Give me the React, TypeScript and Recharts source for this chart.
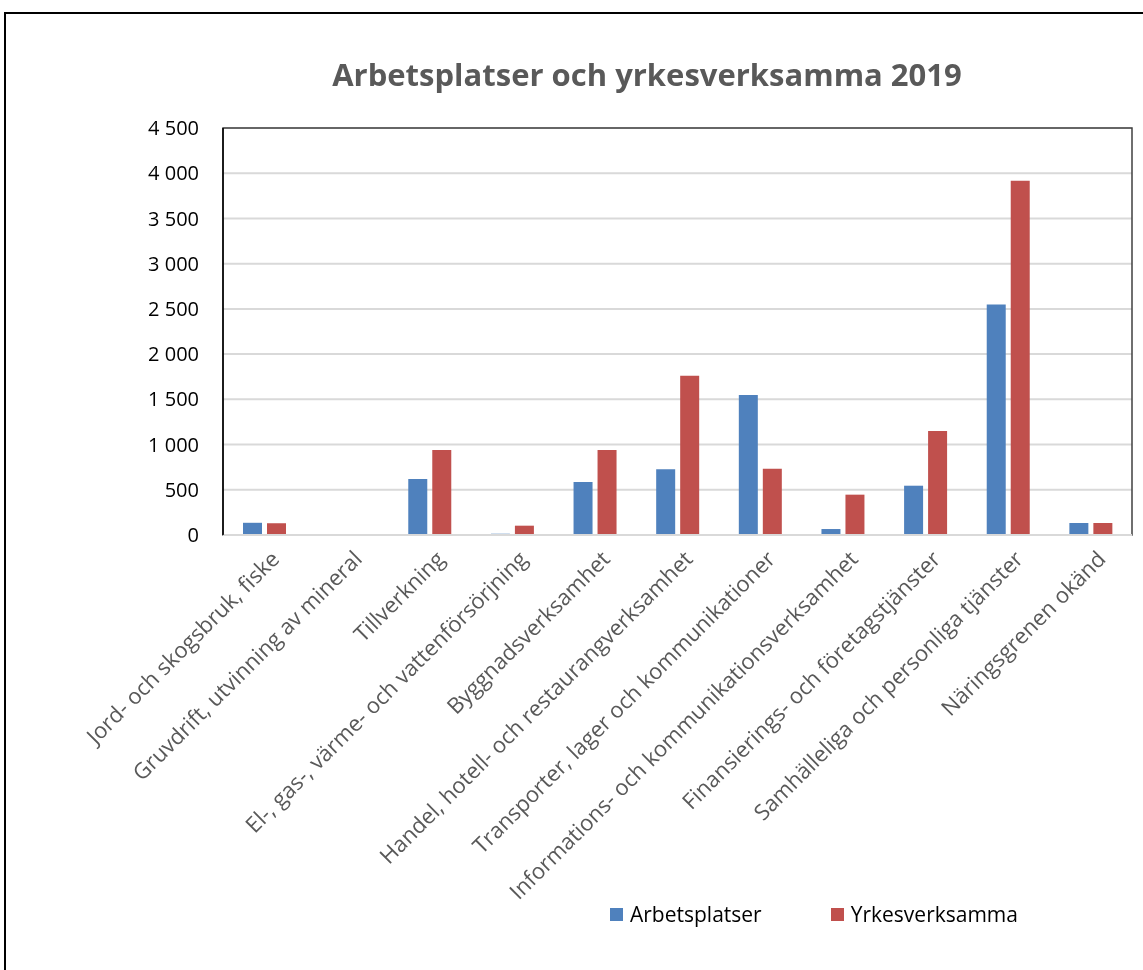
import { Bar, BarChart, CartesianGrid, ReferenceArea, XAxis, YAxis } from "recharts";

const categories = [
  "Jord- och skogsbruk, fiske",
  "Gruvdrift, utvinning av mineral",
  "Tillverkning",
  "El-, gas-, värme- och vattenförsörjning",
  "Byggnadsverksamhet",
  "Handel, hotell- och restaurangverksamhet",
  "Transporter, lager och kommunikationer",
  "Informations- och kommunikationsverksamhet",
  "Finansierings- och företagstjänster",
  "Samhälleliga och personliga tjänster",
  "Näringsgrenen okänd",
];

const arbetsplatser = [135, 0, 620, 14, 586, 726, 1549, 66, 545, 2548, 133];
const yrkesverksamma = [130, 0, 940, 103, 940, 1762, 733, 446, 1150, 3916, 133];

const yTicks = [0, 500, 1000, 1500, 2000, 2500, 3000, 3500, 4000, 4500];

const seriesNames = ["Arbetsplatser", "Yrkesverksamma"];
const seriesColors = ["#4f81bd", "#c0504d"];

const data = categories.map((name, i) => ({
  name,
  arbetsplatser: arbetsplatser[i],
  yrkesverksamma: yrkesverksamma[i],
}));

const FONT = "'Open Sans', 'Noto Sans', sans-serif";

function formatTick(v: number) {
  return v.toString().replace(/\B(?=(\d{3})+(?!\d))/g, " ");
}

function CategoryTick({ x, y, payload }: any) {
  return (
    <g transform={`translate(${x + 11},${y + 12})`}>
      <text
        fill="#595959"
        fontFamily={FONT}
        fontSize={22}
        textAnchor="end"
        dy="0.35em"
        transform="rotate(-45)"
      >
        {payload.value}
      </text>
    </g>
  );
}

export default function App() {
  return (
    <div>
      <div
        style={{
          position: "fixed",
          left: 4,
          top: 12,
          right: -10,
          bottom: -10,
          border: "2px solid #000",
          background: "#fff",
        }}
      />
      <div
        style={{
          position: "absolute",
          left: 0,
          top: 53,
          width: 1294,
          textAlign: "center",
          fontFamily: FONT,
          fontWeight: 700,
          fontSize: 31,
          color: "#595959",
        }}
      >
        Arbetsplatser och yrkesverksamma 2019
      </div>
      <div style={{ position: "absolute", left: 0, top: 0 }}>
        <BarChart
          width={1143}
          height={970}
          data={data}
          margin={{ top: 128, right: 11, left: 0, bottom: 0 }}
          barSize={19}
          barGap={5}
        >
          <CartesianGrid vertical={false} stroke="#d9d9d9" strokeWidth={2} />
          <XAxis
            dataKey="name"
            interval={0}
            height={435}
            tickLine={false}
            axisLine={{ stroke: "#d9d9d9", strokeWidth: 2 }}
            tick={<CategoryTick />}
          />
          <YAxis
            width={223}
            domain={[0, 4500]}
            ticks={yTicks}
            tickFormatter={formatTick}
            tickLine={false}
            tickSize={22}
            axisLine={{ stroke: "#000", strokeWidth: 1.5 }}
            tick={{ fill: "#000", fontSize: 20, fontFamily: FONT }}
          />
          <ReferenceArea y1={0} y2={4500} fill="none" stroke="#404040" strokeWidth={1.5} />
          <Bar dataKey="arbetsplatser" name={seriesNames[0]} fill={seriesColors[0]} isAnimationActive={false} />
          <Bar dataKey="yrkesverksamma" name={seriesNames[1]} fill={seriesColors[1]} isAnimationActive={false} />
        </BarChart>
      </div>
      <div
        style={{
          position: "absolute",
          left: 610,
          top: 900,
          display: "flex",
          alignItems: "center",
          fontFamily: FONT,
          fontSize: 21,
          color: "#000",
        }}
      >
        {seriesNames.map((n, i) => (
          <div key={n} style={{ display: "flex", alignItems: "center", marginRight: i === 0 ? 69 : 0 }}>
            <span
              style={{ display: "inline-block", width: 13, height: 13, background: seriesColors[i], marginRight: 7 }}
            />
            {n}
          </div>
        ))}
      </div>
    </div>
  );
}
